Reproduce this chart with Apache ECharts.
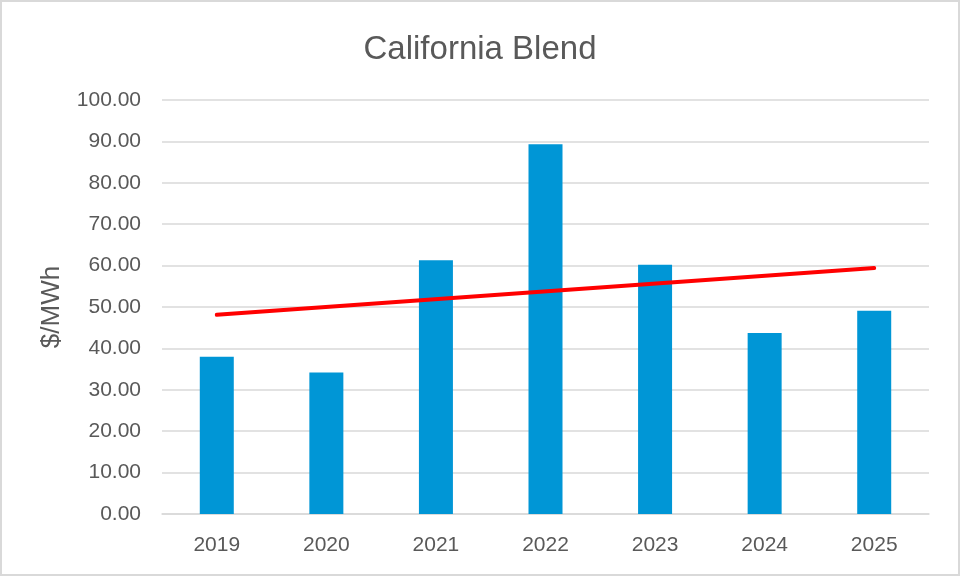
<!DOCTYPE html>
<html>
<head>
<meta charset="utf-8">
<script src="https://cdn.jsdelivr.net/npm/echarts@6/dist/echarts.min.js"></script>
<style>
html,body{margin:0;padding:0;background:#fff;}
#wrap{width:960px;height:576px;box-sizing:border-box;border:2px solid #d9d9d9;position:relative;}
#chart{position:absolute;left:-2px;top:-2px;width:960px;height:576px;}
</style>
</head>
<body>
<div id="wrap"><div id="chart"></div></div>
<script>
const categories = ['2019', '2020', '2021', '2022', '2023', '2024', '2025'];
const prices = [38.0, 34.2, 61.3, 89.3, 60.2, 43.7, 49.1];
const trendStart = 48.1;
const trendEnd = 59.4;
const yTicks = [0, 100, 10];

const chart = echarts.init(document.getElementById('chart'), null, {renderer: 'canvas'});
const font = '"Liberation Sans", Arial, sans-serif';
chart.setOption({
  animation: false,
  backgroundColor: 'transparent',
  title: {
    text: 'California Blend',
    left: 'center',
    top: 28,
    textStyle: {fontFamily: font, fontSize: 33, fontWeight: 'normal', color: '#595959'}
  },
  grid: {left: 162, right: 31, top: 100, bottom: 62, containLabel: false},
  xAxis: {
    type: 'category',
    data: categories,
    axisLine: {show: true, lineStyle: {color: '#d9d9d9', width: 1.5}},
    axisTick: {show: false},
    axisLabel: {fontFamily: font, fontSize: 21, color: '#595959', margin: 21}
  },
  yAxis: {
    type: 'value',
    min: yTicks[0], max: yTicks[1], interval: yTicks[2],
    name: '$/MWh',
    nameLocation: 'middle',
    nameGap: 97,
    nameRotate: 90,
    nameTextStyle: {fontFamily: font, fontSize: 26, color: '#595959'},
    axisLine: {show: false},
    axisTick: {show: false},
    splitLine: {lineStyle: {color: '#d9d9d9', width: 1.5}},
    axisLabel: {fontFamily: font, fontSize: 21, color: '#595959', margin: 21,
      formatter: v => v.toFixed(2)}
  },
  series: [{
    type: 'bar',
    data: prices,
    barWidth: 34,
    itemStyle: {color: '#0096d6'},
    markLine: {
      silent: true,
      symbol: ['none', 'none'],
      label: {show: false},
      lineStyle: {color: '#ff0000', width: 4, type: 'solid', cap: 'round'},
      data: [[{coord: [0, trendStart]}, {coord: [categories.length - 1, trendEnd]}]]
    }
  }]
});
</script>
</body>
</html>
